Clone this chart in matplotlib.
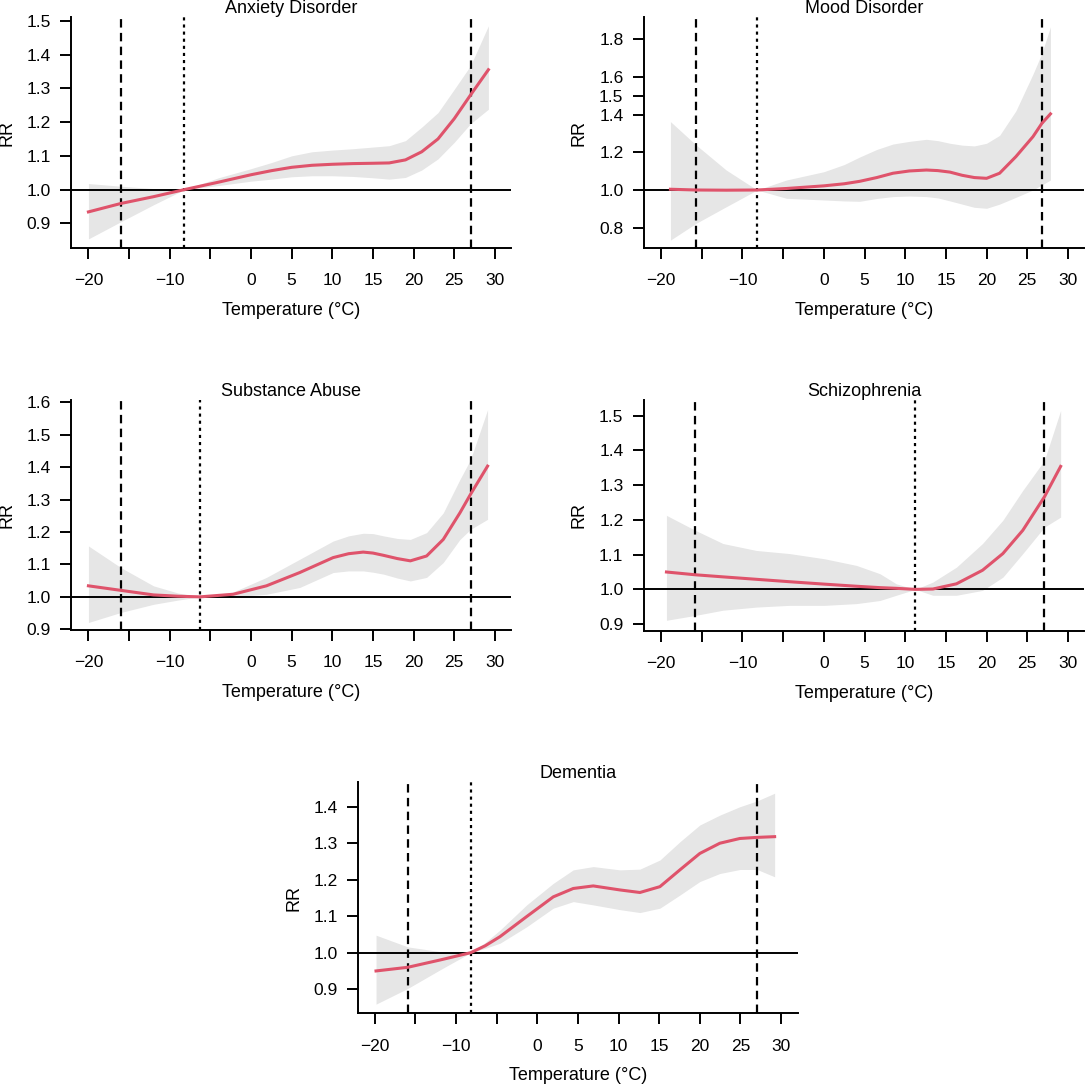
import matplotlib
matplotlib.use("Agg")
import matplotlib.pyplot as plt

plt.rcParams['font.family'] = ['Liberation Sans', 'DejaVu Sans']
plt.rcParams['font.size'] = 12

# ---- data (temperature in degC, RR + 95% CI) ----
anx_t  = [-20, -16, -12, -8.2, -4, 0, 2.5, 5, 7.5, 10, 12.5, 15, 17, 19, 21, 23, 25, 27, 29.2]
anx_rr = [0.934, 0.959, 0.979, 1.0, 1.022, 1.044, 1.056, 1.066, 1.072, 1.075, 1.077, 1.078, 1.079, 1.088, 1.112, 1.150, 1.210, 1.280, 1.355]
anx_lo = [0.854, 0.905, 0.955, 1.0, 1.012, 1.025, 1.031, 1.038, 1.041, 1.041, 1.039, 1.035, 1.031, 1.036, 1.058, 1.091, 1.140, 1.195, 1.238]
anx_hi = [1.018, 1.010, 1.003, 1.0, 1.035, 1.062, 1.080, 1.100, 1.112, 1.117, 1.121, 1.126, 1.130, 1.145, 1.185, 1.228, 1.297, 1.367, 1.485]

mood_t  = [-18.85, -15.7, -12, -8.2, -4.6, 0, 2.5, 4.4, 6.5, 8.5, 10.5, 12.6, 14, 15.5, 17, 18.5, 20, 21.6, 23.6, 25.7, 26.8, 27.85]
mood_rr = [1.004, 1.0, 0.999, 1.0, 1.008, 1.022, 1.033, 1.046, 1.066, 1.089, 1.101, 1.106, 1.103, 1.095, 1.078, 1.066, 1.062, 1.089, 1.177, 1.283, 1.354, 1.404]
mood_lo = [0.734, 0.823, 0.911, 1.0, 0.956, 0.947, 0.942, 0.940, 0.955, 0.965, 0.968, 0.965, 0.958, 0.942, 0.925, 0.908, 0.903, 0.925, 0.961, 1.000, 1.027, 1.053]
mood_hi = [1.363, 1.239, 1.106, 1.0, 1.053, 1.097, 1.135, 1.175, 1.215, 1.244, 1.258, 1.269, 1.262, 1.248, 1.238, 1.234, 1.248, 1.290, 1.420, 1.615, 1.726, 1.867]

sub_t  = [-20, -16, -12, -9, -6.28, -2.2, 1.9, 6.0, 10.1, 12, 13.8, 15, 16.3, 18, 19.6, 21.6, 23.65, 25.7, 27.0, 29.1]
sub_rr = [1.034, 1.020, 1.006, 1.002, 1.0, 1.008, 1.034, 1.075, 1.121, 1.133, 1.138, 1.135, 1.128, 1.118, 1.111, 1.126, 1.177, 1.259, 1.316, 1.403]
sub_lo = [0.921, 0.952, 0.977, 0.990, 1.0, 1.0, 1.008, 1.029, 1.075, 1.080, 1.080, 1.076, 1.070, 1.058, 1.049, 1.060, 1.106, 1.177, 1.208, 1.239]
sub_hi = [1.157, 1.090, 1.034, 1.012, 1.0, 1.015, 1.060, 1.116, 1.172, 1.188, 1.196, 1.195, 1.188, 1.180, 1.177, 1.198, 1.259, 1.362, 1.423, 1.577]

sch_t  = [-19.34, -15.8, -12.4, -8.3, -4.2, 0.1, 4.0, 6.9, 8.9, 11.24, 13.4, 16.3, 19.5, 22.0, 24.45, 27.1, 29.1]
sch_rr = [1.050, 1.042, 1.036, 1.029, 1.022, 1.015, 1.009, 1.005, 1.003, 1.0, 1.001, 1.016, 1.055, 1.103, 1.170, 1.266, 1.354]
sch_lo = [0.911, 0.925, 0.940, 0.949, 0.954, 0.954, 0.959, 0.968, 0.983, 1.0, 0.983, 0.983, 0.997, 1.035, 1.103, 1.179, 1.208]
sch_hi = [1.213, 1.170, 1.132, 1.112, 1.103, 1.088, 1.069, 1.045, 1.016, 1.0, 1.021, 1.064, 1.132, 1.199, 1.285, 1.371, 1.515]

dem_t  = [-19.83, -15.93, -11.96, -8.19, -6.4, -4.58, -1.3, 1.97, 4.43, 6.89, 10.17, 12.63, 15.09, 17.55, 20.0, 22.46, 24.92, 27.05, 29.2]
dem_rr = [0.950, 0.960, 0.980, 1.0, 1.019, 1.044, 1.099, 1.153, 1.176, 1.183, 1.172, 1.165, 1.181, 1.227, 1.272, 1.300, 1.313, 1.316, 1.318]
dem_lo = [0.859, 0.902, 0.953, 1.0, 1.012, 1.026, 1.071, 1.122, 1.140, 1.131, 1.118, 1.110, 1.122, 1.158, 1.195, 1.217, 1.228, 1.228, 1.208]
dem_hi = [1.048, 1.016, 1.003, 1.0, 1.028, 1.062, 1.131, 1.190, 1.227, 1.236, 1.227, 1.229, 1.254, 1.304, 1.350, 1.377, 1.400, 1.416, 1.437]

# reference lines: low / high percentile (dashed) and minimum risk temperature (dotted)
cut_lo = [-16, -15.74, -16, -15.8, -15.93]
cut_hi = [27.02, 26.8, 27.02, 27.1, 27.05]
mmt    = [-8.2, -8.21, -6.28, 11.24, -8.19]

titles = ['Anxiety Disorder', 'Mood Disorder', 'Substance Abuse', 'Schizophrenia', 'Dementia']
yticks = [[0.9, 1.0, 1.1, 1.2, 1.3, 1.4, 1.5],
          [0.8, 1.0, 1.2, 1.4, 1.5, 1.6, 1.8],
          [0.9, 1.0, 1.1, 1.2, 1.3, 1.4, 1.5, 1.6],
          [0.9, 1.0, 1.1, 1.2, 1.3, 1.4, 1.5],
          [0.9, 1.0, 1.1, 1.2, 1.3, 1.4]]
ylims = [(0.827, 1.511), (0.692, 1.918), (0.898, 1.607), (0.881, 1.545), (0.834, 1.467)]
xticks = [-20, -15, -10, -5, 0, 5, 10, 15, 20, 25, 30]
xlabels = ['\u221220', '', '\u221210', '', '0', '5', '10', '15', '20', '25', '30']

series = [(anx_t, anx_rr, anx_lo, anx_hi),
          (mood_t, mood_rr, mood_lo, mood_hi),
          (sub_t, sub_rr, sub_lo, sub_hi),
          (sch_t, sch_rr, sch_lo, sch_hi),
          (dem_t, dem_rr, dem_lo, dem_hi)]

# axes boxes in figure fractions [left, bottom, width, height]
boxes = [[0.0657, 0.7714, 0.4046, 0.2129],
         [0.5930, 0.7714, 0.4050, 0.2129],
         [0.0657, 0.4194, 0.4046, 0.2120],
         [0.5930, 0.4187, 0.4050, 0.2126],
         [0.3300, 0.0661, 0.4050, 0.2129]]
xlims = [(-22.1, 31.95), (-22.1, 31.95), (-22.1, 31.95), (-22.1, 31.95), (-22.0, 32.1)]

fig = plt.figure(figsize=(10.86, 10.85), dpi=100)

for i in range(5):
    ax = fig.add_axes(boxes[i])
    t, rr, lo, hi = series[i]
    ax.fill_between(t, lo, hi, color='#E6E6E6', lw=0, zorder=1)
    ax.axhline(1.0, color='black', lw=1.4, zorder=2)
    ax.axvline(cut_lo[i], color='black', lw=1.6, dashes=(3.8, 2.4), zorder=3)
    ax.axvline(cut_hi[i], color='black', lw=1.6, dashes=(3.8, 2.4), zorder=3)
    ax.axvline(mmt[i], color='black', lw=1.6, dashes=(1.4, 1.8), zorder=3)
    ax.plot(t, rr, color='#DF536B', lw=2.2, zorder=4, solid_joinstyle='round')

    ax.set_xlim(xlims[i])
    ax.set_ylim(ylims[i])
    ax.set_xticks(xticks)
    ax.set_xticklabels(xlabels)
    ax.set_yticks(yticks[i])
    ax.set_yticklabels(['%.1f' % v for v in yticks[i]])
    for s in ['top', 'right']:
        ax.spines[s].set_visible(False)
    for s in ['left', 'bottom']:
        ax.spines[s].set_linewidth(1.4)
    ax.tick_params(axis='both', direction='out', length=7.8, width=1.4, labelsize=12.5)
    ax.tick_params(axis='x', pad=10.5)
    ax.tick_params(axis='y', pad=7)

    ax.set_title(titles[i], fontsize=13, pad=3)
    ax.set_xlabel('Temperature (\u00b0C)', fontsize=13)
    ax.xaxis.set_label_coords(0.5, -0.234)
    ax.set_ylabel('RR', fontsize=13, va='center')
    ax.yaxis.set_label_coords(-0.147, 0.5)

fig.savefig('out.png', dpi=100)
